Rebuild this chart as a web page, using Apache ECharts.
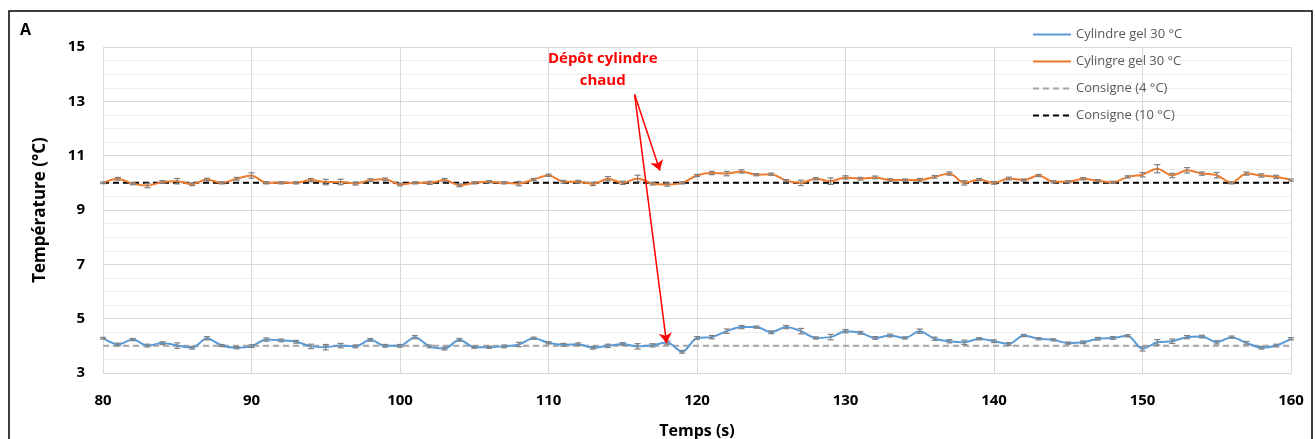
<!DOCTYPE html>
<html><head><meta charset="utf-8">
<script src="https://cdn.jsdelivr.net/npm/echarts@6/dist/echarts.min.js"></script>
<style>html,body{margin:0;padding:0;background:#fff}#c{width:1315px;height:439px}</style>
</head><body><div id="c"></div>
<script>
const times = Array.from({length: 81}, (_, i) => 80 + i);
const blueValues = [4.28,4.05,4.23,4.01,4.10,4.01,3.93,4.28,4.01,3.93,3.99,4.23,4.20,4.15,3.98,3.95,4.01,3.98,4.22,4.00,
 4.00,4.32,3.98,3.90,4.22,3.95,3.95,3.98,4.05,4.28,4.11,4.04,4.06,3.93,4.00,4.07,3.98,4.02,4.12,3.78,
 4.29,4.32,4.54,4.69,4.69,4.50,4.69,4.54,4.29,4.32,4.54,4.48,4.29,4.38,4.29,4.54,4.26,4.17,4.13,4.26,
 4.17,4.07,4.38,4.26,4.22,4.10,4.13,4.26,4.29,4.37,3.89,4.13,4.17,4.32,4.34,4.13,4.32,4.11,3.93,4.01,4.26];
const orangeValues = [10.00,10.15,9.97,9.90,10.03,10.06,9.95,10.12,10.00,10.15,10.27,10.00,10.00,10.00,10.10,10.03,10.03,9.97,10.10,10.13,
 9.94,10.00,10.00,10.10,9.91,10.00,10.04,10.00,9.97,10.12,10.28,10.04,10.04,9.96,10.15,10.00,10.16,9.97,9.94,10.00,
 10.27,10.36,10.34,10.42,10.30,10.32,10.08,10.00,10.15,10.06,10.20,10.15,10.20,10.10,10.10,10.10,10.22,10.34,10.00,10.12,
 10.00,10.16,10.10,10.27,10.04,10.04,10.15,10.08,10.02,10.22,10.30,10.52,10.27,10.46,10.34,10.28,10.00,10.34,10.27,10.22,10.10];
const blueErr = [0.03,0.05,0.04,0.05,0.05,0.10,0.05,0.06,0.04,0.04,0.05,0.06,0.05,0.05,0.08,0.10,0.08,0.05,0.05,0.05,
 0.05,0.06,0.05,0.05,0.05,0.04,0.04,0.05,0.08,0.04,0.04,0.05,0.05,0.05,0.06,0.05,0.10,0.06,0.06,0.05,
 0.05,0.06,0.08,0.06,0.04,0.05,0.06,0.10,0.04,0.10,0.06,0.05,0.05,0.05,0.04,0.08,0.06,0.06,0.08,0.04,
 0.05,0.05,0.04,0.04,0.04,0.04,0.05,0.05,0.05,0.04,0.08,0.10,0.08,0.06,0.05,0.06,0.04,0.05,0.05,0.05,0.04];
const orangeErr = [0.03,0.05,0.04,0.08,0.05,0.10,0.05,0.05,0.04,0.05,0.10,0.04,0.04,0.04,0.06,0.10,0.10,0.05,0.05,0.05,
 0.05,0.04,0.06,0.06,0.05,0.04,0.04,0.04,0.08,0.04,0.04,0.05,0.05,0.06,0.08,0.06,0.12,0.05,0.06,0.04,
 0.04,0.06,0.08,0.06,0.04,0.04,0.04,0.10,0.04,0.12,0.06,0.05,0.05,0.05,0.04,0.06,0.05,0.06,0.08,0.04,
 0.05,0.05,0.04,0.04,0.04,0.04,0.04,0.04,0.04,0.04,0.08,0.15,0.08,0.10,0.06,0.10,0.04,0.06,0.06,0.06,0.04];
const setpointLow = [4, 4];
const setpointHigh = [10, 10];
const setpointTimes = [80, 160];
const xTicks = [80, 90, 100, 110, 120, 130, 140, 150, 160];
const yTicks = [3, 5, 7, 9, 11, 13, 15];
const seriesNames = ['Cylindre gel 30 °C', 'Cylingre gel 30 °C', 'Consigne (4 °C)', 'Consigne (10 °C)'];
const annotationText = 'Dépôt cylindre\nchaud';
const annotationAt = [113.65, 14.15];
const arrowStart = [115.8, 13.25];
const arrowEnds = [[117.5, 10.45], [117.95, 4.1]];

const pair = (xs, ys) => xs.map((x, i) => [x, ys[i]]);
const errData = (vals, errs) => times.map((t, i) => [t, vals[i] - errs[i], vals[i] + errs[i]]);

function renderErr(params, api) {
  const x = api.value(0);
  const lo = api.coord([x, api.value(1)]);
  const hi = api.coord([x, api.value(2)]);
  const w = 3;
  const style = {stroke: '#808080', lineWidth: 1.2};
  return {type: 'group', children: [
    {type: 'line', shape: {x1: lo[0], y1: lo[1], x2: hi[0], y2: hi[1]}, style},
    {type: 'line', shape: {x1: lo[0]-w, y1: lo[1], x2: lo[0]+w, y2: lo[1]}, style},
    {type: 'line', shape: {x1: hi[0]-w, y1: hi[1], x2: hi[0]+w, y2: hi[1]}, style}
  ]};
}

const chart = echarts.init(document.getElementById('c'), null, {renderer: 'canvas'});
const font = '"Open Sans", "Liberation Sans", sans-serif';
chart.setOption({
  animation: false,
  textStyle: {fontFamily: font},
  grid: {left: 103, right: 24, top: 47, bottom: 66, outerBoundsMode: 'none', containLabel: false},
  legend: {
    data: seriesNames,
    orient: 'vertical', left: 1027, top: 23, itemGap: 14, itemWidth: 38, itemHeight: 14,
    itemStyle: {opacity: 0},
    textStyle: {color: '#595959', fontSize: 13, fontFamily: font}
  },
  xAxis: {
    type: 'value', min: 80, max: 160, interval: 10,
    name: 'Temps (s)', nameLocation: 'middle', nameGap: 50,
    nameTextStyle: {fontSize: 16, fontWeight: 'bold', color: '#000'},
    axisLine: {show: true, lineStyle: {color: '#d9d9d9'}}, axisTick: {show: false},
    axisLabel: {fontSize: 15, fontWeight: 'bold', color: '#000', margin: 20,
      formatter: v => xTicks.includes(v) ? String(v) : ''},
    splitLine: {show: true, lineStyle: {color: '#d9d9d9'}}
  },
  yAxis: {
    type: 'value', min: 3, max: 15, interval: 2,
    name: 'Température (°C)', nameLocation: 'middle', nameGap: 54,
    nameTextStyle: {fontSize: 17, fontWeight: 'bold', color: '#000'},
    axisLine: {show: false}, axisTick: {show: false},
    axisLabel: {fontSize: 15, fontWeight: 'bold', color: '#000', margin: 18,
      formatter: v => yTicks.includes(v) ? String(v) : ''},
    splitLine: {show: true, lineStyle: {color: '#d9d9d9'}},
    minorTick: {show: false, splitNumber: 4},
    minorSplitLine: {show: true, lineStyle: {color: '#efefef'}}
  },
  graphic: [
    {type: 'rect', shape: {x: 9, y: 11, width: 1303, height: 440}, style: {fill: 'none', stroke: '#000', lineWidth: 1.5}, silent: true},
    {type: 'text', left: 20, top: 22, style: {text: 'A', font: 'bold 16px ' + font, fill: '#000'}}
  ],
  series: [
    {name: seriesNames[2], type: 'line', data: pair(setpointTimes, setpointLow), symbol: 'none',
      lineStyle: {color: '#a5a5a5', width: 2, type: [6, 4]}, itemStyle: {color: '#a5a5a5'}, z: 2},
    {name: seriesNames[3], type: 'line', data: pair(setpointTimes, setpointHigh), symbol: 'none',
      lineStyle: {color: '#000', width: 2, type: [6, 4]}, itemStyle: {color: '#000'}, z: 2},
    {name: seriesNames[0], type: 'line', data: pair(times, blueValues), symbol: 'none', smooth: 0.3,
      lineStyle: {color: '#5b9bd5', width: 2}, itemStyle: {color: '#5b9bd5'}, z: 3},
    {name: seriesNames[1], type: 'line', data: pair(times, orangeValues), symbol: 'none', smooth: 0.3,
      lineStyle: {color: '#ed7d31', width: 2}, itemStyle: {color: '#ed7d31'}, z: 3,
      markLine: {
        silent: true, symbol: ['none', 'arrow'], symbolSize: 10,
        lineStyle: {color: '#ff0000', width: 1.5, type: 'solid'}, label: {show: false},
        data: arrowEnds.map(e => [{coord: arrowStart}, {coord: e}])
      },
      markPoint: {
        silent: true, symbol: 'rect', symbolSize: 1, itemStyle: {color: 'transparent'},
        data: [{coord: annotationAt, label: {show: true, position: 'inside', formatter: annotationText,
          color: '#ff0000', fontWeight: 'bold', fontSize: 15, lineHeight: 22, align: 'center', fontFamily: font}}]
      }
    },
    {type: 'custom', renderItem: renderErr, data: errData(blueValues, blueErr), encode: {x: 0, y: [1, 2]}, z: 4, silent: true},
    {type: 'custom', renderItem: renderErr, data: errData(orangeValues, orangeErr), encode: {x: 0, y: [1, 2]}, z: 4, silent: true}
  ]
});
</script></body></html>
